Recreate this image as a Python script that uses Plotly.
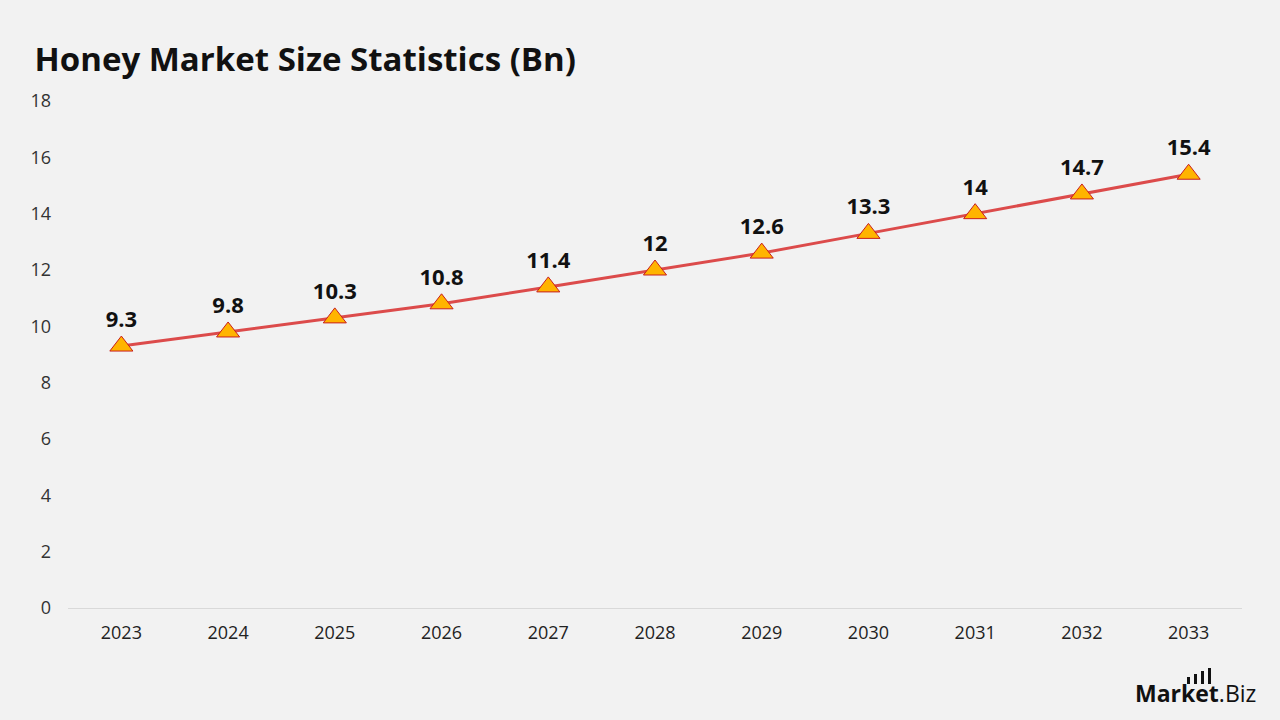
import plotly.graph_objects as go

years = ["2023", "2024", "2025", "2026", "2027", "2028", "2029", "2030", "2031", "2032", "2033"]
values = [9.3, 9.8, 10.3, 10.8, 11.4, 12, 12.6, 13.3, 14, 14.7, 15.4]
value_labels = ["9.3", "9.8", "10.3", "10.8", "11.4", "12", "12.6", "13.3", "14", "14.7", "15.4"]
y_ticks = [0, 2, 4, 6, 8, 10, 12, 14, 16, 18]

FONT = "Open Sans"
ML, MR, MT, MB = 68, 38, 101, 112
PW, PH = 1280 - ML - MR, 720 - MT - MB


def px(xp):
    return (xp - ML) / PW


def py(yp):
    return (720 - MB - yp) / PH


fig = go.Figure()
fig.add_trace(go.Scatter(
    x=years, y=values,
    mode="lines+markers+text",
    line=dict(color="#dc4b4b", width=3),
    marker=dict(symbol="triangle-up", size=20, color="#ffb400",
                line=dict(color="#c81e1e", width=1)),
    text=value_labels,
    textposition="top center",
    textfont=dict(family=FONT, size=22, color="#111111", weight="bold"),
    cliponaxis=False,
    showlegend=False,
))

fig.update_layout(
    width=1280, height=720,
    paper_bgcolor="#f2f2f2", plot_bgcolor="#f2f2f2",
    margin=dict(l=ML, r=MR, t=MT, b=MB),
    title=dict(text="<b>Honey Market Size Statistics (Bn)</b>",
               x=0.027, xanchor="left", y=0.918, yanchor="middle",
               font=dict(family=FONT, size=33, color="#111111")),
    xaxis=dict(type="category", range=[-0.5, 10.5], showgrid=False,
               showline=True, linecolor="#d9d9d9", linewidth=1,
               ticks="", tickfont=dict(family=FONT, size=18, color="#222222"),
               ticklabelstandoff=8, zeroline=False),
    yaxis=dict(range=[0, 18], tickvals=y_ticks, showgrid=False,
               zeroline=False, showline=False, ticks="",
               tickfont=dict(family=FONT, size=18, color="#333333"),
               ticklabelstandoff=16),
)

# logo
fig.add_annotation(text="<b>Market</b>.Biz", xref="paper", yref="paper",
                   x=px(1258), y=py(693), xanchor="right", yanchor="middle", showarrow=False,
                   font=dict(family=FONT, size=23, color="#111111"))
for x0, ytop in [(1187, 677), (1194, 674), (1201, 671), (1208, 668)]:
    fig.add_shape(type="rect", xref="paper", yref="paper",
                  x0=px(x0), x1=px(x0 + 3), y0=py(684), y1=py(ytop),
                  fillcolor="#111111", line=dict(width=0))

fig.write_html("out.html")
